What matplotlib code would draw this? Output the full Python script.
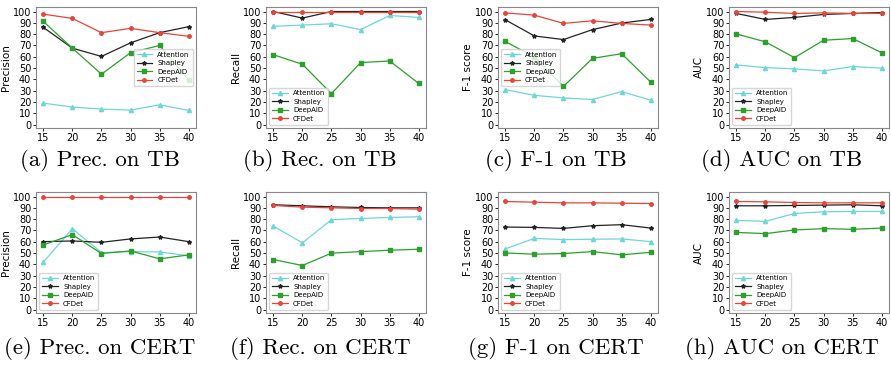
import matplotlib
matplotlib.use("Agg")
import matplotlib.pyplot as plt

x = [15, 20, 25, 30, 35, 40]
methods = ["Attention", "Shapley", "DeepAID", "CFDet"]

# TB dataset
tb_prec = {
    "Attention": [19, 15.5, 13.7, 12.8, 17.5, 12.5],
    "Shapley": [86, 67.6, 60.3, 72.3, 81.3, 86.6],
    "DeepAID": [91.3, 67.6, 44.6, 63.6, 70, 39.4],
    "CFDet": [97.7, 93.9, 81.3, 85.1, 81.3, 78.1],
}
tb_rec = {
    "Attention": [86.9, 88, 89.2, 84, 96.5, 94.8],
    "Shapley": [100, 94.2, 100, 100, 100, 100],
    "DeepAID": [61.8, 53.4, 27.4, 54.8, 56.3, 36.4],
    "CFDet": [100, 100, 100, 100, 100, 100],
}
tb_f1 = {
    "Attention": [30.9, 25.9, 23.6, 22.2, 29.2, 21.6],
    "Shapley": [92.7, 78.4, 75.2, 84, 89.8, 93],
    "DeepAID": [73.5, 59.8, 33.8, 58.6, 62.7, 37.6],
    "CFDet": [98.8, 96.8, 89.5, 91.8, 89.5, 88],
}
tb_auc = {
    "Attention": [52.8, 50.4, 49.3, 47.5, 51.3, 49.9],
    "Shapley": [98.3, 93, 94.8, 97.4, 98.3, 99.1],
    "DeepAID": [80.2, 73.2, 59.2, 74.6, 76.1, 63.6],
    "CFDet": [100, 99.4, 98.3, 98.8, 98.3, 98.3],
}
# CERT dataset
cert_prec = {
    "Attention": [41.9, 71.6, 50.4, 51.3, 51, 47.5],
    "Shapley": [60.1, 60.7, 59.5, 62.5, 64.2, 60.1],
    "DeepAID": [57.2, 66.3, 49.6, 51.9, 44.9, 48.4],
    "CFDet": [100, 100, 100, 100, 100, 100],
}
cert_rec = {
    "Attention": [73.9, 59, 79.5, 80.6, 81.5, 82.1],
    "Shapley": [92.7, 91.8, 90.9, 90.3, 90, 90],
    "DeepAID": [44.3, 39, 49.9, 51.3, 52.5, 53.4],
    "CFDet": [92.1, 90.6, 90, 89.4, 89.4, 88.8],
}
cert_f1 = {
    "Attention": [53.7, 63, 61.9, 62.2, 62.5, 60.1],
    "Shapley": [73, 72.7, 71.8, 74.2, 75.1, 72.1],
    "DeepAID": [50.1, 49, 49.6, 51.3, 48.4, 50.7],
    "CFDet": [95.6, 95, 94.4, 94.4, 94.1, 93.8],
}
cert_auc = {
    "Attention": [78.9, 78, 85, 86.5, 86.8, 86.8],
    "Shapley": [91.8, 91.8, 92.1, 92.4, 92.7, 91.8],
    "DeepAID": [68.3, 67.2, 70.4, 71.6, 71, 72.1],
    "CFDet": [95.6, 95.3, 94.7, 94.4, 94.4, 94.4],
}

panels = [
    (tb_prec, "Precision", "(a) Prec. on TB", "center right"),
    (tb_rec, "Recall", "(b) Rec. on TB", "lower left"),
    (tb_f1, "F-1 score", "(c) F-1 on TB", "center left"),
    (tb_auc, "AUC", "(d) AUC on TB", "lower left"),
    (cert_prec, "Precision", "(e) Prec. on CERT", "lower left"),
    (cert_rec, "Recall", "(f) Rec. on CERT", "lower left"),
    (cert_f1, "F-1 score", "(g) F-1 on CERT", "lower left"),
    (cert_auc, "AUC", "(h) AUC on CERT", "lower left"),
]

styles = {
    "Attention": dict(color="#6fd6d6", marker="^", markersize=3),
    "Shapley": dict(color="#222222", marker="*", markersize=3),
    "DeepAID": dict(color="#2ca02c", marker="s", markersize=3),
    "CFDet": dict(color="#e8443a", marker="o", markersize=2.5),
}

W, H = 891, 367
fig = plt.figure(figsize=(W / 100, H / 100), dpi=100)

# axes boxes in pixels: (left, right) per column, (top, bottom) per row
cols = [(36, 196), (266, 426), (498, 658), (729, 889)]
rows = [(7, 128), (192, 313)]
cap_x = [100, 320, 556, 782]
cap_y = [161, 349]

for i, (data, ylab, cap, loc) in enumerate(panels):
    r, c = divmod(i, 4)
    l, rr = cols[c]
    t, b = rows[r]
    ax = fig.add_axes([l / W, 1 - b / H, (rr - l) / W, (b - t) / H])
    for m in methods:
        ax.plot(x, data[m], label=m, linewidth=0.9, **styles[m])
    ax.set_ylim(-3, 104)
    ax.set_yticks(range(0, 101, 10))
    ax.set_xticks(x)
    ax.tick_params(labelsize=7, length=2, width=0.6, pad=1.5)
    ax.set_ylabel(ylab, fontsize=7.5, labelpad=1)
    for s in ax.spines.values():
        s.set_color("#888888")
        s.set_linewidth(0.8)
    ax.legend(loc=loc, fontsize=5, handlelength=2.2, borderpad=0.4,
              labelspacing=0.35, framealpha=0.8, edgecolor="#cccccc")
    fig.text(cap_x[c] / W, 1 - cap_y[r] / H, cap, family="cmr10",
             fontsize=16.5, ha="center", va="center")

fig.savefig("out.png", dpi=100)
